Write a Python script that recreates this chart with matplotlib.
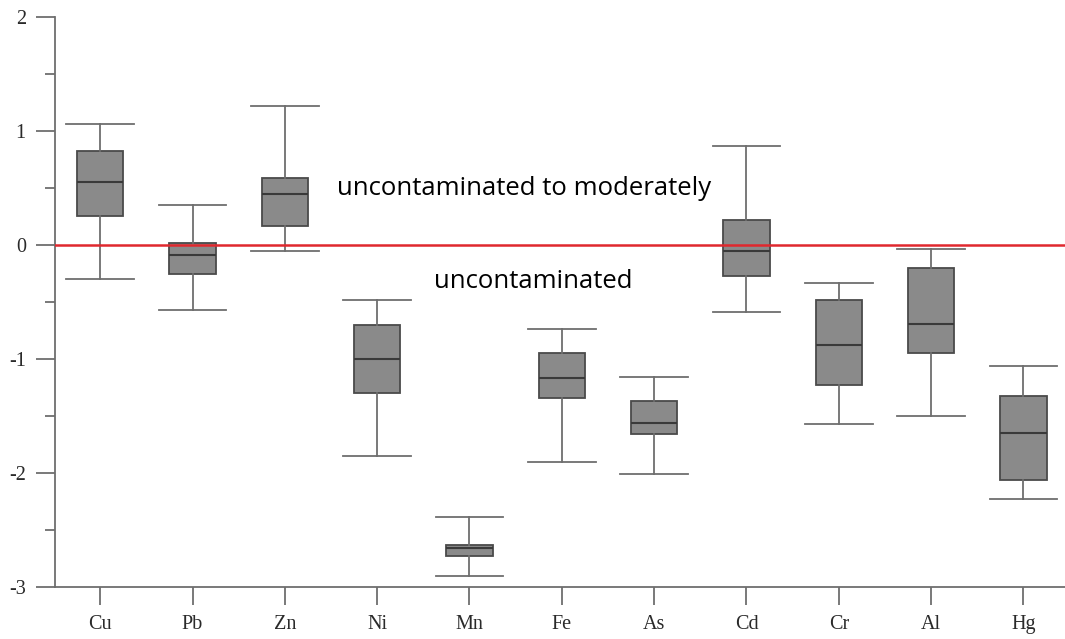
import matplotlib.pyplot as plt

plt.rcParams["axes.unicode_minus"] = False

# Element names and box statistics
elements = ["Cu", "Pb", "Zn", "Ni", "Mn", "Fe", "As", "Cd", "Cr", "Al", "Hg"]
whisker_low = [-0.30, -0.57, -0.05, -1.85, -2.90, -1.90, -2.01, -0.59, -1.57, -1.50, -2.23]
q1 = [0.26, -0.25, 0.17, -1.30, -2.73, -1.34, -1.655, -0.27, -1.23, -0.95, -2.06]
medians = [0.55, -0.09, 0.445, -1.00, -2.66, -1.17, -1.56, -0.05, -0.88, -0.69, -1.65]
q3 = [0.83, 0.02, 0.585, -0.70, -2.63, -0.95, -1.37, 0.22, -0.48, -0.20, -1.325]
whisker_high = [1.06, 0.35, 1.22, -0.48, -2.39, -0.74, -1.16, 0.87, -0.33, -0.035, -1.06]

stats = []
for name, lo, a, m, b, hi in zip(elements, whisker_low, q1, medians, q3, whisker_high):
    stats.append({"label": name, "whislo": lo, "q1": a, "med": m,
                  "q3": b, "whishi": hi, "fliers": []})

fig = plt.figure(figsize=(10.65, 6.39), dpi=100)
ax = fig.add_axes([0.0516, 0.0814, 0.9484, 0.8916])

ax.bxp(stats, positions=range(len(elements)), widths=0.5, capwidths=0.73,
       patch_artist=True, showfliers=False,
       boxprops=dict(facecolor="#8a8a8a", edgecolor="#4a4a4a", linewidth=1.3),
       medianprops=dict(color="#3a3a3a", linewidth=1.5),
       whiskerprops=dict(color="#6e6e6e", linewidth=1.3),
       capprops=dict(color="#6e6e6e", linewidth=1.3))

# Threshold line between classes
ax.axhline(0, color="#e0282e", linewidth=1.8, zorder=3)

ax.text(2.57, 0.5, "uncontaminated to moderately", fontsize=18.5,
        family="Open Sans", va="center", ha="left")
ax.text(3.62, -0.32, "uncontaminated", fontsize=18.5, family="Open Sans",
        va="center", ha="left")

ax.set_xlim(-0.49, 10.45)
ax.set_ylim(-3, 2)
ax.set_yticks([-3, -2, -1, 0, 1, 2])
ax.set_yticks([-2.5, -1.5, -0.5, 0.5, 1.5], minor=True)
ax.set_xticks(range(len(elements)))
ax.set_xticklabels(elements)

for s in ["top", "right"]:
    ax.spines[s].set_visible(False)
for s in ["left", "bottom"]:
    ax.spines[s].set_color("#6e6e6e")
    ax.spines[s].set_linewidth(1.3)

ax.tick_params(axis="y", which="major", length=14, width=1.3, color="#6e6e6e", pad=7)
ax.tick_params(axis="y", which="minor", length=7, width=1.3, color="#6e6e6e")
ax.tick_params(axis="x", length=13, width=1.3, color="#6e6e6e", pad=7)
for lab in ax.get_xticklabels() + ax.get_yticklabels():
    lab.set_family("Liberation Serif")
    lab.set_fontsize(14.5)
    lab.set_color("#2a2a2a")

fig.savefig("out.png", dpi=100)
